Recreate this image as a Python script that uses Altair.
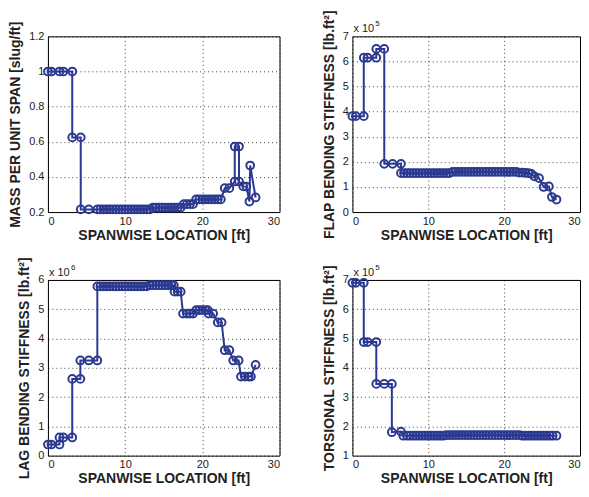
import altair as alt
import pandas as pd

BLUE = "#2B3990"
FONT = "Liberation Sans"

# ---------------- data ----------------
mass_x = [0.0, 0.45, 1.5, 2.0, 3.15, 3.15, 4.25, 4.25, 5.3,
          6.4, 6.8, 7.2, 7.6, 8.0, 8.4, 8.8, 9.2, 9.6, 10.0, 10.4, 10.8, 11.2, 11.6, 12.0, 12.4, 12.8, 13.2,
          13.6, 14.0, 14.4, 14.8, 15.2, 15.6, 16.0, 16.4, 16.8, 17.2,
          17.6, 18.0, 18.4, 18.8,
          19.2, 19.6, 20.0, 20.4, 20.8, 21.2, 21.6, 22.0, 22.4,
          22.9, 23.5, 24.2, 24.2, 24.75, 24.75, 25.3, 25.7, 26.1, 26.2, 26.9]
mass_y = [1.0, 1.0, 1.0, 1.0, 1.0, 0.625, 0.625, 0.215, 0.215,
          0.215, 0.215, 0.215, 0.215, 0.215, 0.215, 0.215, 0.215, 0.215, 0.215, 0.215, 0.215, 0.215, 0.215, 0.215, 0.215, 0.215, 0.215,
          0.225, 0.225, 0.225, 0.225, 0.225, 0.225, 0.225, 0.225, 0.225, 0.225,
          0.245, 0.245, 0.245, 0.245,
          0.272, 0.272, 0.272, 0.272, 0.272, 0.272, 0.272, 0.272, 0.272,
          0.336, 0.336, 0.374, 0.573, 0.573, 0.374, 0.346, 0.345, 0.26, 0.465, 0.283]

flap_x = [0.0, 0.45, 1.5, 1.5, 2.0, 3.15, 3.15, 4.2, 4.2, 5.3, 6.4, 6.4,
          6.8, 7.2, 7.6, 8.0, 8.4, 8.8, 9.2, 9.6, 10.0, 10.4, 10.8, 11.2, 11.6, 12.0, 12.4, 12.8,
          13.2, 13.6, 14.0, 14.4, 14.8, 15.2, 15.6, 16.0, 16.4, 16.8, 17.2, 17.6, 18.0, 18.4, 18.8,
          19.2, 19.6, 20.0, 20.4, 20.8, 21.2, 21.6,
          22.0, 22.4, 22.8, 23.2, 23.6, 24.0, 24.6, 25.2, 25.9, 26.3, 26.9]
flap_y = [3.82, 3.82, 3.82, 6.15, 6.15, 6.15, 6.5, 6.5, 1.92, 1.92, 1.92, 1.55,
          1.55, 1.55, 1.55, 1.55, 1.55, 1.55, 1.55, 1.55, 1.55, 1.55, 1.55, 1.55, 1.55, 1.55, 1.55, 1.55,
          1.6, 1.6, 1.6, 1.6, 1.6, 1.6, 1.6, 1.6, 1.6, 1.6, 1.6, 1.6, 1.6, 1.6, 1.6,
          1.6, 1.6, 1.6, 1.6, 1.6, 1.6, 1.6,
          1.57, 1.57, 1.56, 1.55, 1.52, 1.42, 1.35, 1.0, 1.02, 0.6, 0.5]

lag_x = [0.0, 0.45, 1.5, 1.5, 2.0, 3.15, 3.15, 4.2, 4.2, 5.3, 6.4, 6.4,
         6.8, 7.2, 7.6, 8.0, 8.4, 8.8, 9.2, 9.6, 10.0, 10.4, 10.8, 11.2, 11.6, 12.0, 12.4, 12.8,
         13.2, 13.6, 14.0, 14.4, 14.8, 15.2, 15.6, 16.0, 16.3,
         16.4, 16.8, 17.2,
         17.5, 18.0, 18.4, 18.8,
         19.2, 19.6, 20.0, 20.4, 20.7,
         20.8, 21.4, 22.0, 22.5, 22.9, 23.5, 24.0, 24.7,
         25.0, 25.5, 26.0, 26.3, 26.9]
lag_y = [0.38, 0.38, 0.38, 0.62, 0.62, 0.62, 2.62, 2.62, 3.25, 3.25, 3.25, 5.78,
         5.78, 5.78, 5.78, 5.78, 5.78, 5.78, 5.78, 5.78, 5.78, 5.78, 5.78, 5.78, 5.78, 5.78, 5.78, 5.78,
         5.82, 5.82, 5.82, 5.82, 5.82, 5.82, 5.82, 5.82, 5.82,
         5.6, 5.6, 5.6,
         4.85, 4.85, 4.85, 4.85,
         4.97, 4.97, 4.97, 4.97, 4.97,
         4.85, 4.85, 4.55, 4.55, 3.6, 3.6, 3.25, 3.25,
         2.7, 2.7, 2.7, 2.7, 3.1]

tors_x = [0.0, 0.45, 1.5, 1.5, 2.0, 3.15, 3.15, 4.2, 5.2, 5.2, 6.4, 6.7,
          7.2, 7.6, 8.0, 8.4, 8.8, 9.2, 9.6, 10.0, 10.4, 10.8, 11.2, 11.6, 12.0,
          12.4, 12.8, 13.2, 13.6, 14.0, 14.4, 14.8, 15.2, 15.6, 16.0, 16.4, 16.8, 17.2, 17.6,
          18.0, 18.4, 18.8, 19.2, 19.6, 20.0, 20.4, 20.8, 21.2, 21.6, 22.0,
          22.4, 22.8, 23.2, 23.6, 24.0, 24.4, 24.8, 25.2, 25.6, 26.0, 26.4, 26.9]
tors_y = [6.9, 6.9, 6.9, 4.88, 4.88, 4.88, 3.45, 3.45, 3.45, 1.8, 1.82, 1.68,
          1.68, 1.68, 1.68, 1.68, 1.68, 1.68, 1.68, 1.68, 1.68, 1.68, 1.68, 1.68, 1.68,
          1.7, 1.7, 1.7, 1.7, 1.7, 1.7, 1.7, 1.7, 1.7, 1.7, 1.7, 1.7, 1.7, 1.7,
          1.7, 1.7, 1.7, 1.7, 1.7, 1.7, 1.7, 1.7, 1.7, 1.7, 1.7,
          1.68, 1.68, 1.68, 1.68, 1.68, 1.68, 1.68, 1.68, 1.68, 1.68, 1.68, 1.68]

X_TITLE = "SPANWISE LOCATION [ft]"
H = 176

GRID = dict(grid=True, gridColor="#000", gridDash=[1, 3], gridWidth=1, gridOpacity=0.75)


def panel(xs, ys, ytitle, ydom, yvals, fmt, width, mult=None):
    df = pd.DataFrame({"x": xs, "y": ys, "i": list(range(len(xs)))})
    line = alt.Chart(df).mark_line(
        color=BLUE, strokeWidth=2,
        point=alt.OverlayMarkDef(filled=False, color=BLUE, size=60, strokeWidth=2),
    ).encode(
        x=alt.X("x:Q", scale=alt.Scale(domain=[0, 30], nice=False),
                axis=alt.Axis(title=X_TITLE, values=[0, 10, 20, 30], **GRID)),
        y=alt.Y("y:Q", scale=alt.Scale(domain=ydom, nice=False),
                axis=alt.Axis(title=ytitle, values=yvals, format=fmt, **GRID)),
        order="i:Q",
    )
    layers = [line]
    if mult is not None:
        t1 = alt.Chart(pd.DataFrame({"t": ["x 10"]})).mark_text(
            align="left", baseline="alphabetic", font=FONT, fontSize=11, color="#222"
        ).encode(text="t:N", x=alt.value(1), y=alt.value(-4))
        t2 = alt.Chart(pd.DataFrame({"t": [mult]})).mark_text(
            align="left", baseline="alphabetic", font=FONT, fontSize=8, color="#222"
        ).encode(text="t:N", x=alt.value(23), y=alt.value(-10))
        layers += [t1, t2]
    return alt.layer(*layers).properties(width=width, height=H)


p1 = panel(mass_x, mass_y, "MASS PER UNIT SPAN [slug/ft]", [0.2, 1.2],
           [0.2, 0.4, 0.6, 0.8, 1.0, 1.2], ".1~f", 232)
p2 = panel(flap_x, flap_y, "FLAP BENDING STIFFNESS [lb.ft²]", [0, 7],
           [0, 1, 2, 3, 4, 5, 6, 7], "d", 228, "5")
p3 = panel(lag_x, lag_y, "LAG BENDING STIFFNESS [lb.ft²]", [0, 6],
           [0, 1, 2, 3, 4, 5, 6], "d", 232, "6")
p4 = panel(tors_x, tors_y, "TORSIONAL STIFFNESS [lb.ft²]", [1, 7],
           [1, 2, 3, 4, 5, 6, 7], "d", 228, "5")

chart = alt.concat(
    p1, p2, p3, p4, columns=2,
    spacing={"row": 68, "column": 73},
    bounds="flush",
).properties(
    padding={"left": 0, "top": 0, "right": 0, "bottom": 0}
).configure(
    background="white"
).configure_view(
    stroke="black", strokeWidth=1
).configure_axis(
    labelFont=FONT, labelFontSize=11, labelColor="#222",
    titleFont=FONT, titleFontSize=14, titleFontWeight="bold", titleColor="#222",
    domain=False, ticks=False,
).configure_axisX(
    labelPadding=3, titlePadding=2,
).configure_axisY(
    labelPadding=4, titlePadding=6,
)

chart.save("out.html", embed_options={"renderer": "svg", "actions": False})
